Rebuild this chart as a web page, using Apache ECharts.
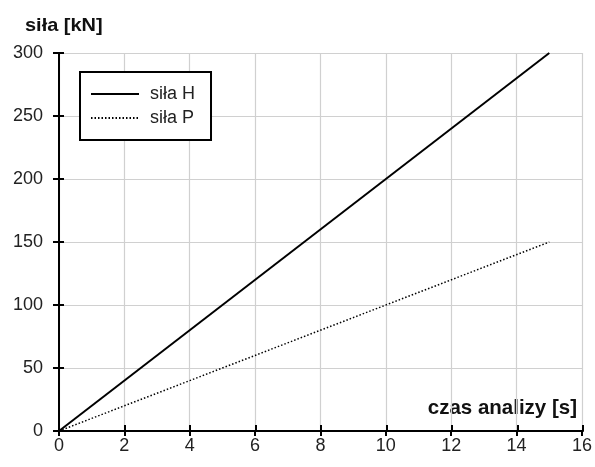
<!DOCTYPE html>
<html><head><meta charset="utf-8">
<script src="https://cdn.jsdelivr.net/npm/echarts@6/dist/echarts.min.js"></script>
<style>html,body{margin:0;padding:0;background:#fff}#c{width:595px;height:467px}</style>
</head><body><div id="c"></div>
<script>
const time = [0, 15];
const silaH = [0, 300];
const silaP = [0, 150];
const seriesNames = ['siła H', 'siła P'];
const yTitle = 'siła [kN]';
const xTitle = 'czas analizy [s]';

const font = 'Liberation Sans, Arial, sans-serif';
const chart = echarts.init(document.getElementById('c'), null, {renderer: 'canvas'});
const mk = (ys) => time.map((t, i) => [t, ys[i]]);
const G = {left: 59, right: 12, top: 53, bottom: 36, containLabel: false};
const xBase = {type: 'value', min: 0, max: 16, interval: 2};
const yBase = {type: 'value', min: 0, max: 300, interval: 50};
const tickStyle = {color: '#000', width: 2};
chart.setOption({
  animation: false,
  backgroundColor: '#fff',
  grid: [Object.assign({}, G), Object.assign({}, G)],
  legend: {
    left: 80, top: 72, orient: 'vertical',
    data: seriesNames,
    itemWidth: 48, itemHeight: 14, itemGap: 6,
    padding: [13, 16, 13, 10],
    borderColor: '#000', borderWidth: 2,
    backgroundColor: '#fff',
    itemStyle: {opacity: 0},
    textStyle: {fontFamily: font, fontSize: 18, color: '#222', padding: [0, 0, 0, 6]},
  },
  xAxis: [
    Object.assign({}, xBase, {
      gridIndex: 0, position: 'bottom',
      axisLine: {show: true, onZero: false, lineStyle: {color: '#000', width: 2}},
      axisTick: {show: true, inside: false, length: 5, lineStyle: tickStyle},
      axisLabel: {fontFamily: font, fontSize: 18, color: '#222', margin: 6},
      splitLine: {show: true, lineStyle: {color: '#d0d0d0', width: 1.2}}
    }),
    Object.assign({}, xBase, {
      gridIndex: 1, position: 'bottom', z: 10,
      axisLine: {show: true, onZero: false, lineStyle: {color: '#000', width: 2}},
      axisTick: {show: true, inside: false, length: -6, lineStyle: tickStyle},
      axisLabel: {show: true, color: 'rgba(0,0,0,0)', fontSize: 1},
      splitLine: {show: false}
    })
  ],
  yAxis: [
    Object.assign({}, yBase, {
      gridIndex: 0, position: 'left',
      axisLine: {show: true, onZero: false, lineStyle: {color: '#000', width: 2}},
      axisTick: {show: true, inside: false, length: 6, lineStyle: tickStyle},
      axisLabel: {fontFamily: font, fontSize: 18, color: '#222', margin: 16},
      splitLine: {show: true, lineStyle: {color: '#d0d0d0', width: 1.2}}
    }),
    Object.assign({}, yBase, {
      gridIndex: 1, position: 'left', z: 10,
      axisLine: {show: true, onZero: false, lineStyle: {color: '#000', width: 2}},
      axisTick: {show: true, inside: false, length: -5, lineStyle: tickStyle},
      axisLabel: {show: true, color: 'rgba(0,0,0,0)', fontSize: 1},
      splitLine: {show: false}
    })
  ],
  graphic: [
    {type: 'text', left: 25, top: 16, scaleX: 1.05, style: {text: yTitle, font: 'bold 19px ' + font, fill: '#111'}},
    {type: 'text', right: 18, top: 398, style: {text: xTitle, font: 'bold 20.5px ' + font, fill: '#111'}}
  ],
  series: [
    {name: seriesNames[0], type: 'line', data: mk(silaH), symbol: 'none',
     lineStyle: {color: '#000', width: 2, type: 'solid'}, itemStyle: {color: '#000'}},
    {name: seriesNames[1], type: 'line', data: mk(silaP), symbol: 'none',
     lineStyle: {color: '#000', width: 1.5, type: [1.5, 2]}, itemStyle: {color: '#000'}},
    {type: 'line', xAxisIndex: 1, yAxisIndex: 1, data: mk(silaP), symbol: 'none', silent: true,
     lineStyle: {opacity: 0}, itemStyle: {opacity: 0}}
  ]
});
</script></body></html>
